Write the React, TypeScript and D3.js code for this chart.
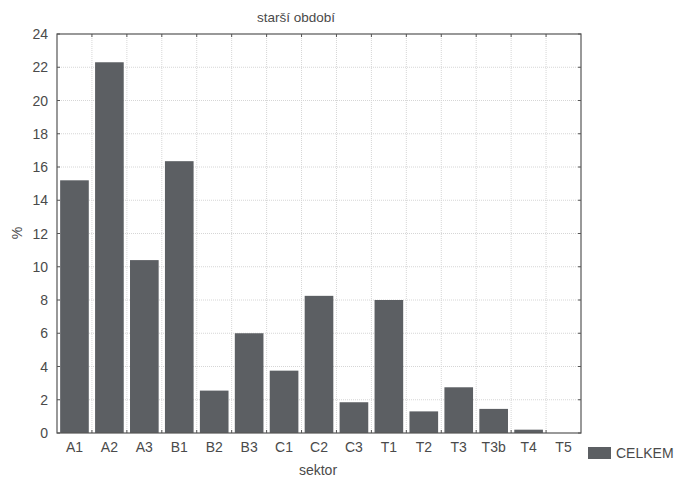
import React from "react";
import * as d3 from "d3";

const categories = ["A1", "A2", "A3", "B1", "B2", "B3", "C1", "C2", "C3", "T1", "T2", "T3", "T3b", "T4", "T5"];
const values = [15.2, 22.3, 10.4, 16.35, 2.55, 6.0, 3.75, 8.25, 1.85, 8.0, 1.3, 2.75, 1.45, 0.2, 0];
const yTicks = [0, 2, 4, 6, 8, 10, 12, 14, 16, 18, 20, 22, 24];
const seriesName = "CELKEM";
const title = "starší období";
const xTitle = "sektor";
const yTitle = "%";

const W = 676, H = 481;
const L = 57, R = 581, T = 34, B = 433;
const barColor = "#5c5f63";
const textColor = "#4a4a4a";
const font = "Liberation Sans, Arial, sans-serif";

export default function App() {
  const x = d3.scaleBand<string>().domain(categories).range([L, R]).paddingInner(0.18).paddingOuter(0.09);
  const xb = d3.scaleBand<string>().domain(categories).range([L, R]);
  const y = d3.scaleLinear().domain([0, 24]).range([B, T]);
  const bounds = categories.slice(1).map((c) => xb(c)!);
  return (
    <svg width={W} height={H} style={{ position: "absolute", left: 0, top: 0 }} fontFamily={font}>
      <rect x={0} y={0} width={W} height={H} fill="#fff" />
      {yTicks.slice(1, -1).map((t) => (
        <line key={"gy" + t} x1={L} x2={R} y1={y(t)} y2={y(t)} stroke="#d6d6d6" strokeWidth={1} strokeDasharray="1,1" />
      ))}
      {bounds.map((bx, i) => (
        <line key={"gx" + i} x1={bx} x2={bx} y1={T} y2={B} stroke="#d6d6d6" strokeWidth={1} strokeDasharray="1,1" />
      ))}
      {categories.map((c, i) => (
        <rect key={c} x={x(c)} y={y(values[i])} width={x.bandwidth()} height={B - y(values[i])} fill={barColor} />
      ))}
      <rect x={L} y={T} width={R - L} height={B - T} fill="none" stroke="#555" strokeWidth={1.2} />
      {yTicks.map((t) => (
        <g key={"yt" + t}>
          <line x1={L} x2={L + 3} y1={y(t)} y2={y(t)} stroke="#555" />
          <line x1={R} x2={R - 3} y1={y(t)} y2={y(t)} stroke="#555" />
          <text x={L - 9} y={y(t)} dy="0.36em" textAnchor="end" fontSize={14} fill={textColor}>{t}</text>
        </g>
      ))}
      {bounds.map((bx, i) => (
        <g key={"xt" + i}>
          <line x1={bx} x2={bx} y1={B} y2={B - 3} stroke="#555" />
          <line x1={bx} x2={bx} y1={T} y2={T + 3} stroke="#555" />
        </g>
      ))}
      {categories.map((c) => (
        <text key={"xl" + c} x={xb(c)! + xb.bandwidth() / 2} y={452} textAnchor="middle" fontSize={14} fill={textColor}>{c}</text>
      ))}
      <text x={296} y={22} textAnchor="middle" fontSize={13.5} fill={textColor}>{title}</text>
      <text x={318} y={475} textAnchor="middle" fontSize={14} fill={textColor}>{xTitle}</text>
      <text transform={`translate(22,${233}) rotate(-90)`} textAnchor="middle" fontSize={14} fill={textColor}>{yTitle}</text>
      <rect x={588} y={447} width={23} height={12} fill={barColor} />
      <text x={616} y={458} fontSize={14} fill={textColor}>{seriesName}</text>
    </svg>
  );
}
